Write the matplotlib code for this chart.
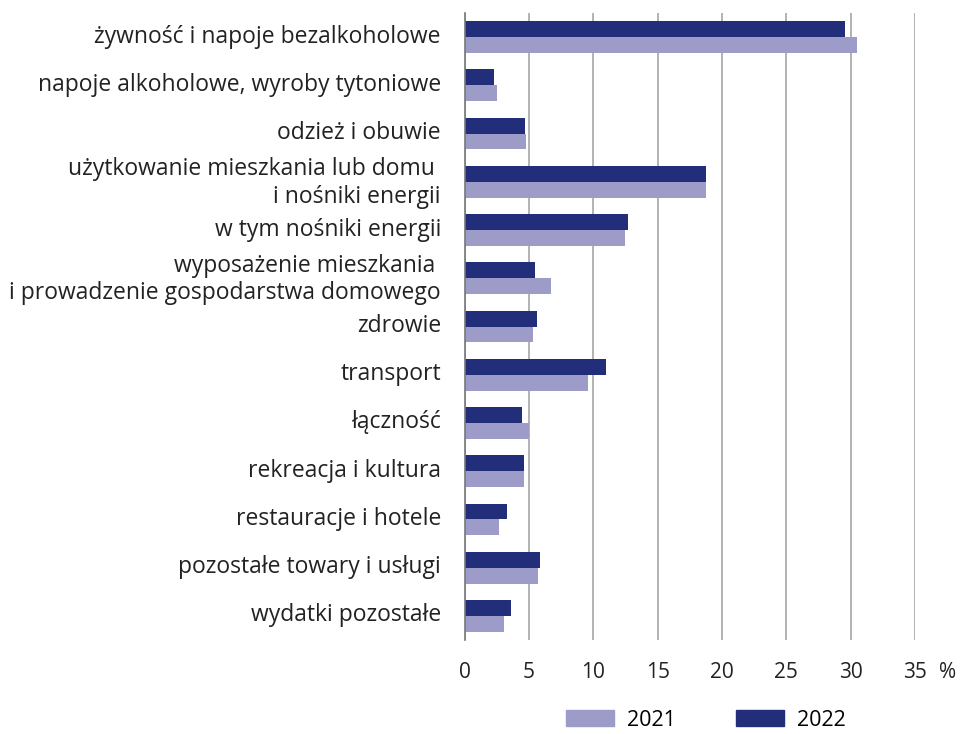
import numpy as np
import matplotlib.pyplot as plt
from matplotlib.patches import Patch
from matplotlib.transforms import ScaledTranslation

plt.rcParams['font.family'] = ['Open Sans', 'DejaVu Sans']

categories = [
    "żywność i napoje bezalkoholowe",
    "napoje alkoholowe, wyroby tytoniowe",
    "odzież i obuwie",
    "użytkowanie mieszkania lub domu \ni nośniki energii",
    "w tym nośniki energii",
    "wyposażenie mieszkania \ni prowadzenie gospodarstwa domowego",
    "zdrowie",
    "transport",
    "łączność",
    "rekreacja i kultura",
    "restauracje i hotele",
    "pozostałe towary i usługi",
    "wydatki pozostałe",
]
values_2021 = [30.5, 2.5, 4.8, 18.8, 12.5, 6.7, 5.3, 9.6, 5.0, 4.6, 2.7, 5.7, 3.1]
values_2022 = [29.6, 2.3, 4.7, 18.8, 12.7, 5.5, 5.6, 11.0, 4.5, 4.6, 3.3, 5.9, 3.6]
x_ticks = [0, 5, 10, 15, 20, 25, 30, 35]

light = "#9d9cc8"
dark = "#232e7a"

fig = plt.figure(figsize=(9.6, 7.34), dpi=100)
ax = fig.add_axes([464.5 / 960, 94 / 734, 450.5 / 960, 627 / 734])

y = np.arange(len(categories))
h = 0.33
ax.barh(y - h / 2, values_2022, height=h, color=dark, zorder=3)
ax.barh(y + h / 2, values_2021, height=h, color=light, zorder=3)

ax.set_ylim(len(categories) - 0.5, -0.5)
ax.set_xlim(0, 35)
ax.set_xticks(x_ticks)
ax.set_xticklabels([str(t) for t in x_ticks], fontsize=15, color="#222222")
ax.set_yticks(y)
ax.set_yticklabels(categories, fontsize=16.5, color="#222222")
ax.tick_params(axis="both", length=0)
ax.tick_params(axis="x", pad=16)
ax.tick_params(axis="y", pad=17)
# labels sit a bit higher than bar centres in the original
shift = ScaledTranslation(0, 0.035, fig.dpi_scale_trans)
for lab in ax.get_yticklabels():
    lab.set_transform(lab.get_transform() + shift)
ax.grid(axis="x", color="#a6a6a6", linewidth=1.2, zorder=0)
for s in ["top", "right", "bottom"]:
    ax.spines[s].set_visible(False)
ax.spines["left"].set_color("#777777")
ax.spines["left"].set_linewidth(1.2)
ax.spines["left"].set_zorder(4)

fig.text(948 / 960, 1 - 672 / 734, "%", fontsize=15, color="#222222",
         ha="center", va="center")

handles = [Patch(color=light, label="2021"), Patch(color=dark, label="2022")]
fig.legend(handles=handles, loc="center", bbox_to_anchor=(706 / 960, 1 - 720 / 734),
           ncol=2, frameon=False, fontsize=15.5, handlelength=2.23, handleheight=0.75,
           columnspacing=2.8, handletextpad=0.6)

fig.savefig("out.png", dpi=100)
